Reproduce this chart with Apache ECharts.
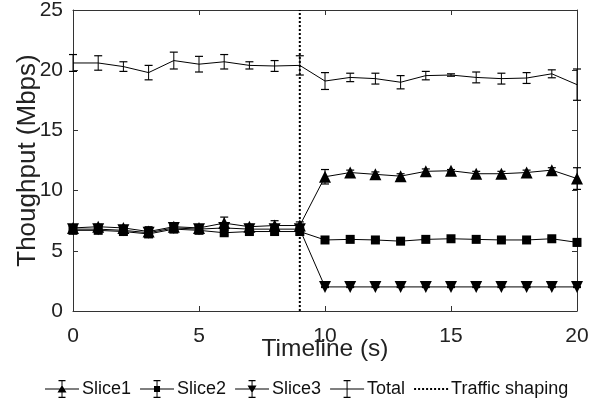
<!DOCTYPE html>
<html>
<head>
<meta charset="utf-8">
<script src="https://cdn.jsdelivr.net/npm/echarts@6/dist/echarts.min.js"></script>
<style>
  html, body { margin: 0; padding: 0; background: #fff; }
  #main { width: 592px; height: 403px; }
</style>
</head>
<body>
<div id="main"></div>
<script>
// timeline (s)
const times = [0,1,2,3,4,5,6,7,8,9,10,11,12,13,14,15,16,17,18,19,20]

// throughput means and error half-widths (Mbps)
const slice1 = [6.9,7.0,6.9,6.6,7.0,6.9,7.3,7.0,7.1,7.1,11.15,11.5,11.35,11.2,11.6,11.65,11.4,11.4,11.5,11.7,11.0]
const slice1Err = [0.2,0.2,0.2,0.4,0.2,0.2,0.5,0.2,0.4,0.3,0.6,0.2,0.2,0.2,0.2,0.1,0.2,0.2,0.2,0.2,0.9]
const slice2 = [6.7,6.7,6.6,6.4,6.8,6.7,6.5,6.6,6.6,6.6,5.9,5.95,5.9,5.8,5.95,6.0,5.95,5.9,5.9,6.0,5.7]
const slice2Err = [0.2,0.2,0.2,0.2,0.2,0.2,0.2,0.2,0.2,0.2,0.1,0.1,0.1,0.1,0.1,0.1,0.1,0.1,0.1,0.1,0.3]
const slice3 = [6.8,6.8,6.7,6.5,6.9,6.8,6.9,6.8,6.8,6.8,2.0,2.0,2.0,2.0,2.0,2.0,2.0,2.0,2.0,2.0,2.0]
const slice3Err = [0.2,0.2,0.2,0.2,0.2,0.2,0.2,0.2,0.2,0.2,0.05,0.05,0.05,0.05,0.05,0.05,0.05,0.05,0.05,0.05,0.05]
const total = [20.6,20.6,20.3,19.8,20.8,20.5,20.7,20.4,20.35,20.4,19.1,19.4,19.3,19.0,19.55,19.6,19.4,19.3,19.35,19.7,18.8]
const totalErr = [0.7,0.6,0.4,0.6,0.7,0.65,0.6,0.3,0.45,0.8,0.7,0.35,0.45,0.55,0.35,0.1,0.45,0.45,0.45,0.33,1.3]

// traffic shaping moment
const shapingTime = 9
const yRange = [0, 25]

const FONT = 'Liberation Sans'

function pts(vals) { return times.map((t, i) => [t, vals[i]]) }
function errPts(vals, errs) { return times.map((t, i) => [t, vals[i], errs[i]]) }

function errorBars(name, vals, errs) {
  return {
    name: name,
    type: 'custom',
    z: 3,
    renderItem: function (params, api) {
      const x = api.value(0), v = api.value(1), e = api.value(2)
      const lo = api.coord([x, v - e]), hi = api.coord([x, v + e])
      const cap = 4
      return {
        type: 'group',
        children: [
          { type: 'line', shape: { x1: lo[0], y1: lo[1], x2: hi[0], y2: hi[1] }, style: { stroke: '#000', lineWidth: 1 } },
          { type: 'line', shape: { x1: lo[0] - cap, y1: lo[1], x2: lo[0] + cap, y2: lo[1] }, style: { stroke: '#000', lineWidth: 1.2 } },
          { type: 'line', shape: { x1: hi[0] - cap, y1: hi[1], x2: hi[0] + cap, y2: hi[1] }, style: { stroke: '#000', lineWidth: 1.2 } }
        ]
      }
    },
    data: errPts(vals, errs)
  }
}

// legend icons (34x18 box)
const base = 'M0,8.5H34V9.5H0Z M16.5,0.5H17.5V17.5H16.5Z M13.5,0H20.5V1.2H13.5Z M13.5,16.8H20.5V18H13.5Z'
const iconUp = 'path://' + base + ' M12.5,12.5L17,5L21.5,12.5Z'
const iconSq = 'path://' + base + ' M14,6H20V12H14Z'
const iconDown = 'path://' + base + ' M12.5,5.5L21.5,5.5L17,13Z'
const iconTotal = 'path://' + base
let dots = ''
for (let i = 0; i < 9; i++) dots += 'M' + (i * 4) + ',0H' + (i * 4 + 2) + 'V2H' + (i * 4) + 'Z '
const iconDot = 'path://' + dots

const chart = echarts.init(document.getElementById('main'))

const lineBase = {
  type: 'line',
  lineStyle: { color: '#000', width: 1 },
  itemStyle: { color: '#000' },
  z: 4
}

const axisLineStyle = { show: true, onZero: false, lineStyle: { color: '#333' } }
const tickStyle = { show: true, inside: true, length: 5, lineStyle: { color: '#333' } }

chart.setOption({
  animation: false,
  backgroundColor: '#fff',
  textStyle: { fontFamily: FONT },
  grid: { left: 73, right: 15, top: 10, bottom: 92, containLabel: false, outerBoundsMode: 'none' },
  legend: {
    top: 375,
    left: 40,
    itemWidth: 34,
    itemHeight: 18,
    itemGap: 9,
    textStyle: { fontFamily: FONT, fontSize: 18, color: '#111', padding: [0, 0, 0, -2] },
    data: [
      { name: 'Slice1', icon: iconUp },
      { name: 'Slice2', icon: iconSq },
      { name: 'Slice3', icon: iconDown },
      { name: 'Total', icon: iconTotal },
      { name: 'Traffic shaping', icon: iconDot, itemStyle: { color: '#000' } }
    ],
    itemStyle: { color: '#000' }
  },
  xAxis: [{
    type: 'value', min: 0, max: 20, interval: 5,
    name: 'Timeline (s)', nameLocation: 'middle', nameGap: 26, nameMoveOverlap: false,
    nameTextStyle: { fontFamily: FONT, fontSize: 24.5, color: '#222' },
    axisLine: axisLineStyle,
    axisTick: tickStyle,
    axisLabel: { fontFamily: FONT, fontSize: 21, color: '#222', margin: 15 },
    splitLine: { show: false }
  }, {
    type: 'value', min: 0, max: 20, interval: 5, position: 'top',
    axisLine: axisLineStyle,
    axisTick: tickStyle,
    axisLabel: { show: false },
    splitLine: { show: false }
  }],
  yAxis: [{
    type: 'value', min: yRange[0], max: yRange[1], interval: 5,
    name: 'Thoughput (Mbps)', nameLocation: 'middle', nameGap: 32, nameMoveOverlap: false,
    nameTextStyle: { fontFamily: FONT, fontSize: 26, color: '#222' },
    axisLine: axisLineStyle,
    axisTick: tickStyle,
    axisLabel: { fontFamily: FONT, fontSize: 21, color: '#222', margin: 10 },
    splitLine: { show: false }
  }, {
    type: 'value', min: yRange[0], max: yRange[1], interval: 5, position: 'right',
    axisLine: axisLineStyle,
    axisTick: tickStyle,
    axisLabel: { show: false },
    splitLine: { show: false }
  }],
  series: [
    Object.assign({}, lineBase, { name: 'Slice1', data: pts(slice1), symbol: 'triangle', symbolSize: 12 }),
    errorBars('Slice1', slice1, slice1Err),
    Object.assign({}, lineBase, { name: 'Slice2', data: pts(slice2), symbol: 'rect', symbolSize: 9 }),
    errorBars('Slice2', slice2, slice2Err),
    Object.assign({}, lineBase, { name: 'Slice3', data: pts(slice3), symbol: 'triangle', symbolRotate: 180, symbolSize: 12 }),
    errorBars('Slice3', slice3, slice3Err),
    Object.assign({}, lineBase, { name: 'Total', data: pts(total), symbol: 'none' }),
    errorBars('Total', total, totalErr),
    {
      name: 'Traffic shaping', type: 'line', symbol: 'none', z: 2,
      lineStyle: { color: '#000', width: 2, type: [2, 2] },
      itemStyle: { color: '#000' },
      data: [[shapingTime, yRange[0]], [shapingTime, yRange[1]]]
    }
  ]
})
</script>
</body>
</html>
